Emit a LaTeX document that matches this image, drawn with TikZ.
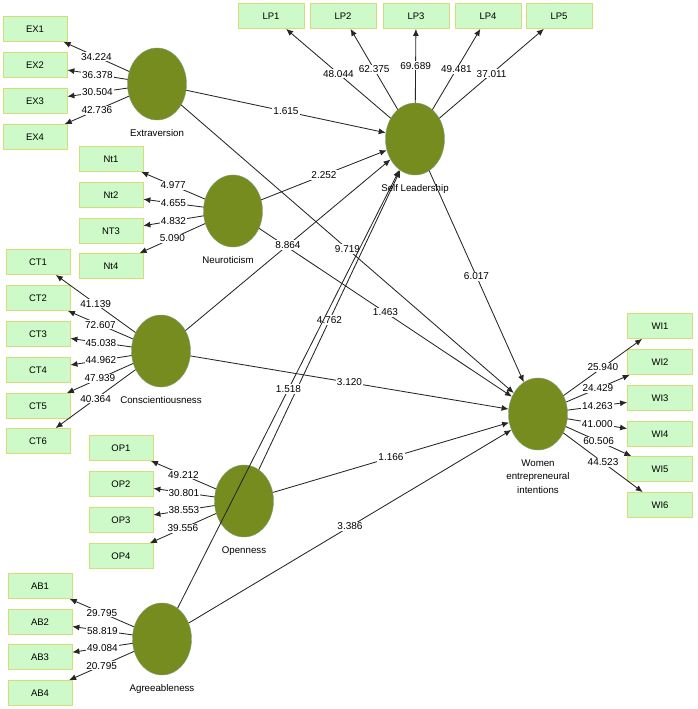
\documentclass[tikz,border=0pt]{standalone}
\usepackage{fontspec}
\setmainfont{Liberation Sans}
\usepackage{xcolor}
\usepackage{tikz}
\usetikzlibrary{arrows.meta,shapes,positioning}

\definecolor{lvgreen}{RGB}{118,140,30}
\definecolor{indfill}{RGB}{205,250,200}
\definecolor{indline}{RGB}{212,222,120}

\begin{document}
\begin{tikzpicture}[x=1pt,y=-1pt,>={Latex[length=7pt,width=6pt]},
  lv/.style={ellipse, fill=lvgreen, draw=cyan!25!lvgreen, minimum width=59pt, minimum height=72pt, inner sep=0pt},
  ind/.style={rectangle, fill=indfill, draw=indline, line width=0.8pt, minimum width=64pt, minimum height=25pt, font=\fontsize{9.5}{10}\selectfont},
  lvname/.style={font=\fontsize{9.7}{13.5}\selectfont, align=center, inner sep=1pt},
  val/.style={fill=white, inner sep=1pt, font=\fontsize{10}{11}\selectfont},
  link/.style={->, line width=0.85pt, draw=black!85}]

  \useasboundingbox (0,0) rectangle (697,709);

  % latent variables
  \node[lv] (ex) at (157,84) {};
  \node[lv] (nt) at (233,211) {};
  \node[lv] (ct) at (161,351) {};
  \node[lv] (op) at (244,501) {};
  \node[lv] (ab) at (162,639) {};
  \node[lv] (sl) at (415,139) {};
  \node[lv] (wi) at (538,414) {};

  \node[lvname, below=8pt of ex] (exname) {Extraversion};
  \node[lvname, below=8pt of nt, xshift=-5pt] (ntname) {Neuroticism};
  \node[lvname, below=8pt of ct] (ctname) {Conscientiousness};
  \node[lvname, below=8pt of op] (opname) {Openness};
  \node[lvname, below=8pt of ab] (abname) {Agreeableness};
  \node[lvname, below=8pt of wi] (winame) {Women\\entrepreneural\\intentions};

  % indicators
  \node[ind] (EX1) at (35,29) {EX1};
  \node[ind] (EX2) at (35,65) {EX2};
  \node[ind] (EX3) at (35,101) {EX3};
  \node[ind] (EX4) at (35,137) {EX4};

  \node[ind] (Nt1) at (111,159) {Nt1};
  \node[ind] (Nt2) at (111,195) {Nt2};
  \node[ind] (NT3) at (111,231) {NT3};
  \node[ind] (Nt4) at (111,266) {Nt4};

  \node[ind] (CT1) at (38,262) {CT1};
  \node[ind] (CT2) at (38,298) {CT2};
  \node[ind] (CT3) at (38,334) {CT3};
  \node[ind] (CT4) at (38,370) {CT4};
  \node[ind] (CT5) at (38,406) {CT5};
  \node[ind] (CT6) at (38,441) {CT6};

  \node[ind] (OP1) at (121,448) {OP1};
  \node[ind] (OP2) at (121,484) {OP2};
  \node[ind] (OP3) at (121,520) {OP3};
  \node[ind] (OP4) at (121,556) {OP4};

  \node[ind] (AB1) at (40,586) {AB1};
  \node[ind] (AB2) at (40,622) {AB2};
  \node[ind] (AB3) at (40,657) {AB3};
  \node[ind] (AB4) at (40,693) {AB4};

  \node[ind, minimum width=66pt] (LP1) at (271,16) {LP1};
  \node[ind, minimum width=66pt] (LP2) at (343,16) {LP2};
  \node[ind, minimum width=66pt] (LP3) at (416,16) {LP3};
  \node[ind, minimum width=66pt] (LP4) at (488,16) {LP4};
  \node[ind, minimum width=66pt] (LP5) at (559,16) {LP5};

  \node[ind, minimum width=65pt] (WI1) at (660,326) {WI1};
  \node[ind, minimum width=65pt] (WI2) at (660,362) {WI2};
  \node[ind, minimum width=65pt] (WI3) at (660,398) {WI3};
  \node[ind, minimum width=65pt] (WI4) at (660,434) {WI4};
  \node[ind, minimum width=65pt] (WI5) at (660,469) {WI5};
  \node[ind, minimum width=65pt] (WI6) at (660,505) {WI6};

  % outer loadings
  \draw[link] (ex) -- node[val] {34.224} (EX1);
  \draw[link] (ex) -- node[val] {36.378} (EX2);
  \draw[link] (ex) -- node[val] {30.504} (EX3);
  \draw[link] (ex) -- node[val] {42.736} (EX4);

  \draw[link] (nt) -- node[val] {4.977} (Nt1);
  \draw[link] (nt) -- node[val] {4.655} (Nt2);
  \draw[link] (nt) -- node[val] {4.832} (NT3);
  \draw[link] (nt) -- node[val] {5.090} (Nt4);

  \draw[link] (ct) -- node[val] {41.139} (CT1);
  \draw[link] (ct) -- node[val] {72.607} (CT2);
  \draw[link] (ct) -- node[val] {45.038} (CT3);
  \draw[link] (ct) -- node[val] {44.962} (CT4);
  \draw[link] (ct) -- node[val] {47.939} (CT5);
  \draw[link] (ct) -- node[val] {40.364} (CT6);

  \draw[link] (op) -- node[val] {49.212} (OP1);
  \draw[link] (op) -- node[val] {30.801} (OP2);
  \draw[link] (op) -- node[val] {38.553} (OP3);
  \draw[link] (op) -- node[val] {39.556} (OP4);

  \draw[link] (ab) -- node[val] {29.795} (AB1);
  \draw[link] (ab) -- node[val] {58.819} (AB2);
  \draw[link] (ab) -- node[val] {49.084} (AB3);
  \draw[link] (ab) -- node[val] {20.795} (AB4);

  \draw[link] (sl) -- node[val] {48.044} (LP1);
  \draw[link] (sl) -- node[val] {62.375} (LP2);
  \draw[link] (sl) -- node[val] {69.689} (LP3);
  \draw[link] (sl) -- node[val] {49.481} (LP4);
  \draw[link] (sl) -- node[val] {37.011} (LP5);

  \draw[link] (wi) -- node[val] {25.940} (WI1);
  \draw[link] (wi) -- node[val] {24.429} (WI2);
  \draw[link] (wi) -- node[val] {14.263} (WI3);
  \draw[link] (wi) -- node[val] {41.000} (WI4);
  \draw[link] (wi) -- node[val] {60.506} (WI5);
  \draw[link] (wi) -- node[val] {44.523} (WI6);

  % inner model
  \draw[link] (ex) -- node[val] {1.615} (sl);
  \draw[link] (ex) -- node[val] {9.719} (wi);
  \draw[link] (nt) -- node[val] {2.252} (sl);
  \draw[link] (nt) -- node[val] {1.463} (wi);
  \draw[link] (ct) -- node[val] {8.864} (sl);
  \draw[link] (ct) -- node[val] {3.120} (wi);
  \draw[link] (op) -- node[val] {4.762} (sl);
  \draw[link] (op) -- node[val] {1.166} (wi);
  \draw[link] (ab) -- node[val] {1.518} (sl);
  \draw[link] (ab) -- node[val] {3.386} (wi);
  \draw[link] (sl) -- node[val] {6.017} (wi);

  \node[lvname, below=8pt of sl] (slname) {Self Leadership};

\end{tikzpicture}
\end{document}
